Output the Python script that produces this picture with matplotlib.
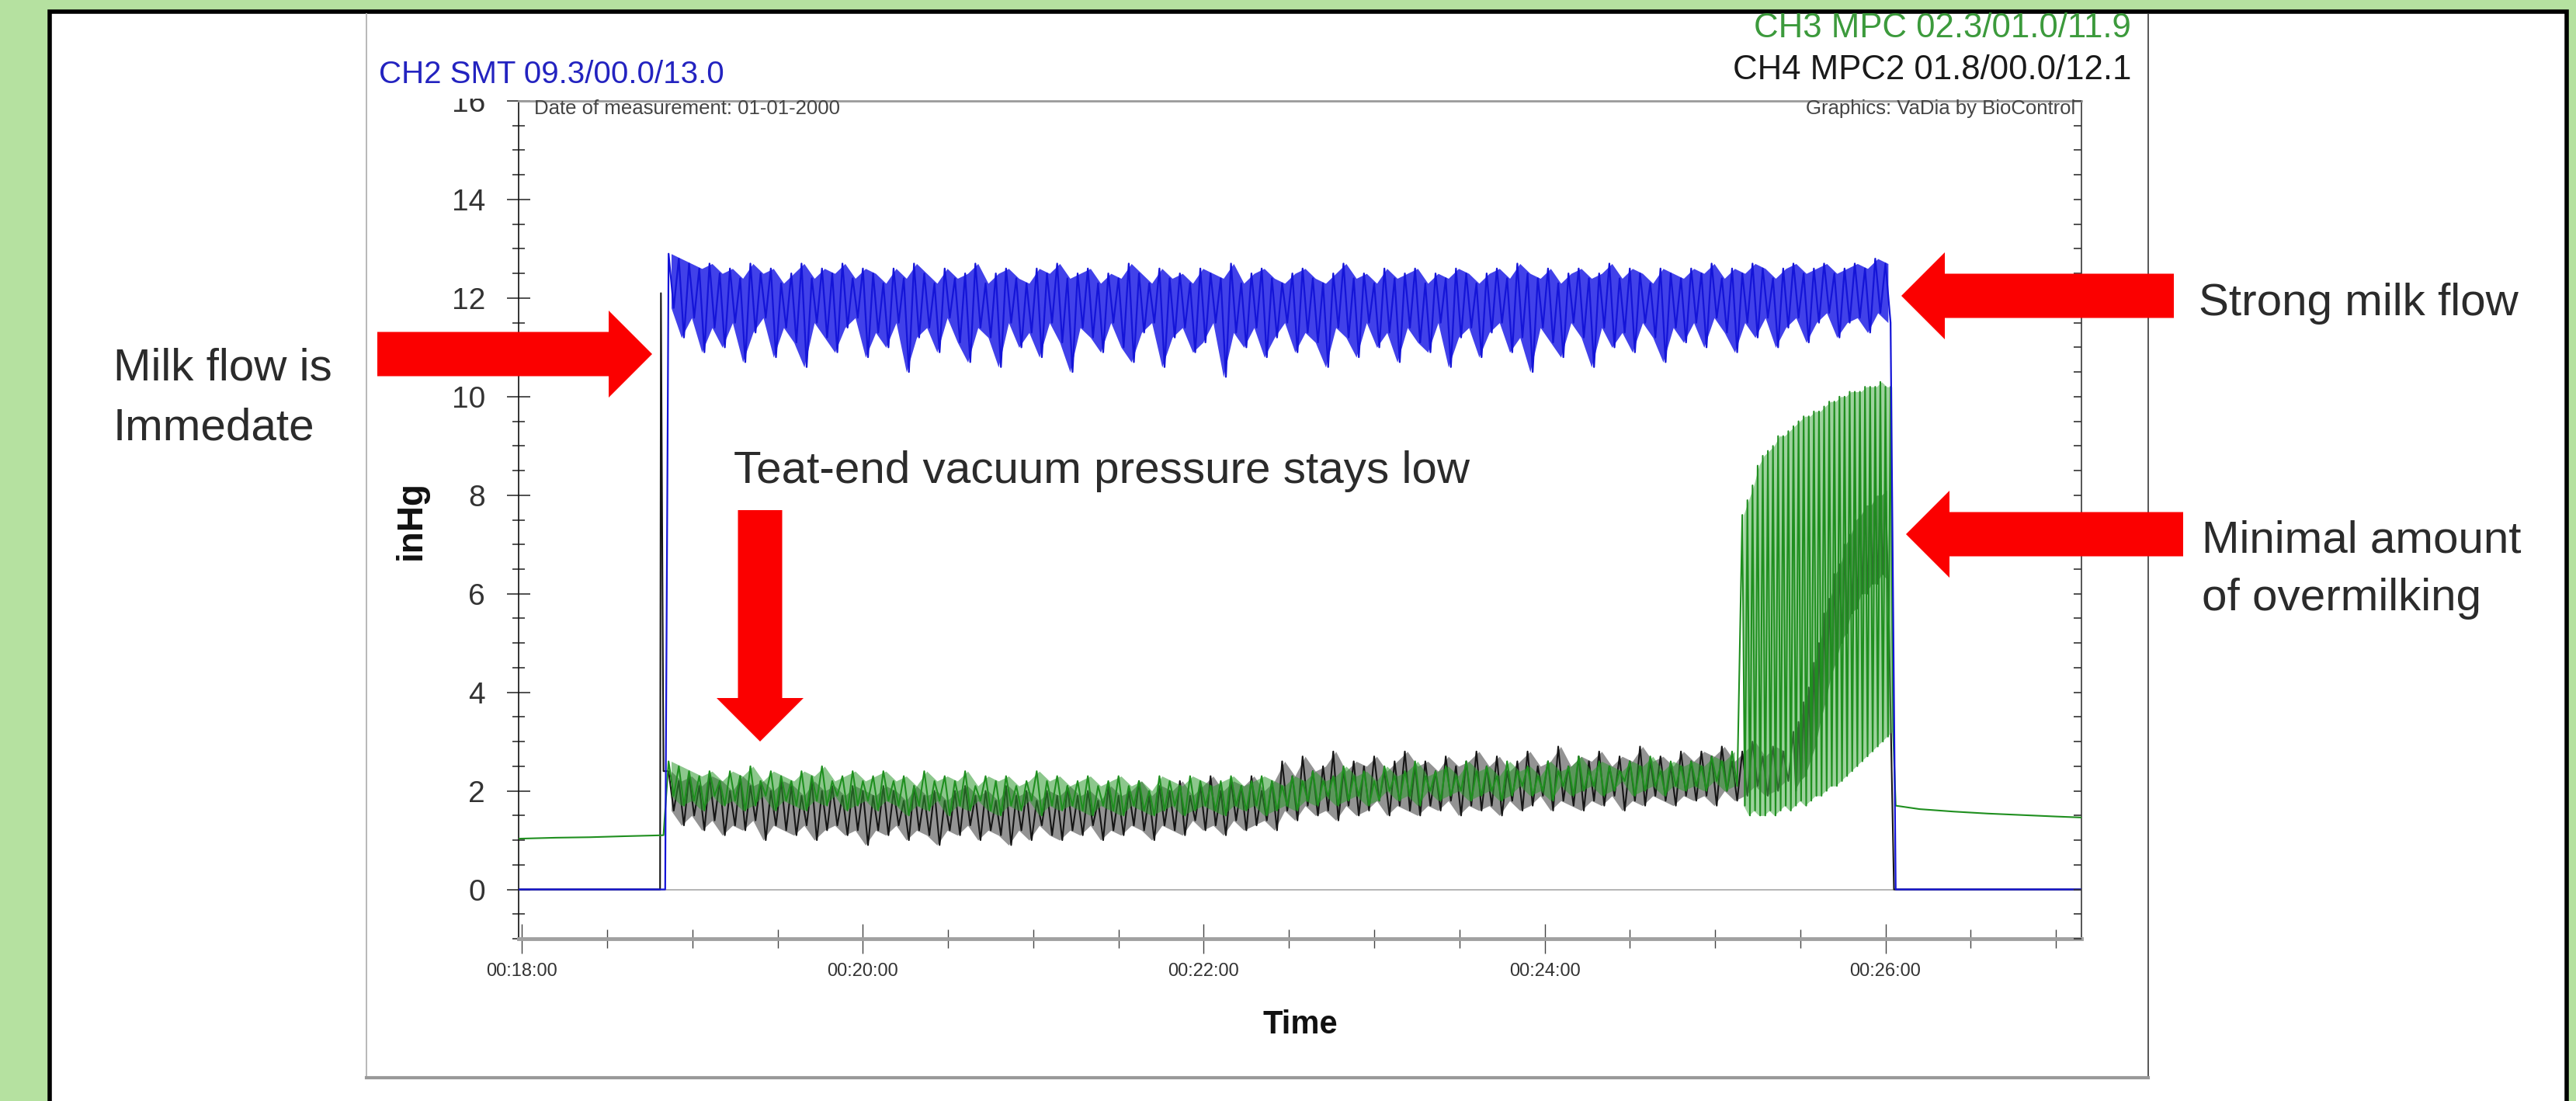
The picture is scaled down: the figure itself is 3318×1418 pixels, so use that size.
import numpy as np
import matplotlib.pyplot as plt
from matplotlib.patches import Rectangle, FancyArrow
from matplotlib.lines import Line2D
from matplotlib.ticker import MultipleLocator, FuncFormatter

plt.rcParams['font.family'] = ['Liberation Sans', 'DejaVu Sans']

W, H, DPI = 3318, 1418, 100

# ---------------- data: vacuum in inHg, time in minutes ----------------
dt = 0.03      # sample step of the pulsating traces
dt_fast = 0.015

# CH2 SMT (blue)
ch2_pre_t = [17.98, 18.84]
ch2_pre = [0.0, 0.0]
ch2_t0 = 18.86
ch2_hi = [12.9, 12.8, 12.7, 12.6, 12.7, 12.5, 12.6, 12.4, 12.7, 12.5, 12.6, 12.3, 12.5, 12.7, 12.4, 12.6, 12.5, 12.7, 12.4, 12.6,
          12.5, 12.3, 12.6, 12.4, 12.7, 12.5, 12.3, 12.6, 12.4, 12.5, 12.7, 12.3, 12.5, 12.6, 12.4, 12.3, 12.6, 12.5, 12.7, 12.4,
          12.5, 12.6, 12.3, 12.5, 12.4, 12.7, 12.5, 12.3, 12.6, 12.4, 12.5, 12.3, 12.6, 12.5, 12.4, 12.7, 12.3, 12.5, 12.6, 12.4,
          12.3, 12.5, 12.6, 12.4, 12.3, 12.5, 12.7, 12.4, 12.5, 12.3, 12.6, 12.4, 12.5, 12.6, 12.3, 12.5, 12.4, 12.6, 12.5, 12.3,
          12.5, 12.6, 12.4, 12.7, 12.5, 12.4, 12.6, 12.3, 12.5, 12.6, 12.4, 12.5, 12.7, 12.4, 12.6, 12.5, 12.3, 12.6, 12.5, 12.4,
          12.6, 12.5, 12.7, 12.4, 12.6, 12.5, 12.7, 12.6, 12.4, 12.6, 12.7, 12.5, 12.6, 12.7, 12.5, 12.6, 12.7, 12.6, 12.8, 12.7]
ch2_lo = [11.8, 11.2, 11.6, 10.9, 11.4, 11.0, 11.5, 10.7, 11.3, 11.6, 10.8, 11.4, 11.1, 10.6, 11.5, 11.2, 10.9, 11.4, 11.6, 10.8,
          11.3, 11.0, 11.5, 10.5, 11.2, 11.4, 10.9, 11.6, 11.1, 10.7, 11.4, 11.2, 10.6, 11.5, 11.0, 11.3, 10.8, 11.5, 11.1, 10.5,
          11.4, 11.2, 10.9, 11.5, 11.0, 10.7, 11.3, 11.5, 10.6, 11.2, 11.4, 10.9, 11.1, 11.5, 10.4, 11.3, 11.0, 11.4, 10.8, 11.2,
          11.5, 10.9, 11.3, 11.1, 10.6, 11.4, 11.2, 10.8, 11.5, 11.0, 11.3, 10.7, 11.4, 11.1, 10.9, 11.5, 10.6, 11.2, 11.4, 10.8,
          11.3, 11.5, 10.9, 11.2, 10.5, 11.4, 11.1, 10.8, 11.5, 11.2, 10.6, 11.4, 11.0, 11.3, 10.9, 11.5, 11.2, 10.7, 11.4, 11.1,
          11.5, 11.0, 11.6, 11.3, 10.9, 11.5, 11.2, 11.6, 11.0, 11.4, 11.6, 11.1, 11.5, 11.7, 11.2, 11.5, 11.6, 11.3, 11.7, 11.5]
ch2_post_t = [26.06, 27.15]
ch2_post = [0.0, 0.0]

# CH3 MPC (green)
ch3_pre_t = [17.98, 18.2, 18.4, 18.6, 18.83]
ch3_pre = [1.03, 1.05, 1.06, 1.08, 1.10]
ch3_t0 = 18.86
ch3_hi = [2.6, 2.5, 2.4, 2.3, 2.4, 2.2, 2.4, 2.3, 2.5, 2.2, 2.4, 2.3, 2.2, 2.4, 2.3, 2.5, 2.2, 2.3, 2.4, 2.2,
          2.3, 2.4, 2.2, 2.3, 2.1, 2.4, 2.2, 2.3, 2.2, 2.4, 2.1, 2.3, 2.2, 2.3, 2.1, 2.2, 2.4, 2.2, 2.3, 2.1,
          2.2, 2.3, 2.1, 2.2, 2.3, 2.1, 2.2, 2.0, 2.3, 2.2, 2.1, 2.3, 2.2, 2.1, 2.2, 2.3, 2.1, 2.2, 2.3, 2.2,
          2.1, 2.3, 2.2, 2.4, 2.2, 2.3, 2.5, 2.3, 2.4, 2.2, 2.5, 2.3, 2.4, 2.6, 2.3, 2.4, 2.5, 2.3, 2.6, 2.4,
          2.5, 2.3, 2.6, 2.4, 2.5, 2.3, 2.6, 2.4, 2.5, 2.7, 2.4, 2.6, 2.5, 2.4, 2.6, 2.5, 2.7, 2.4, 2.6, 2.5,
          2.6, 2.5, 2.7, 2.6, 2.8]
ch3_lo = [1.9, 1.7, 1.8, 1.6, 1.9, 1.7, 1.8, 1.6, 1.7, 1.9, 1.6, 1.8, 1.7, 1.6, 1.8, 1.7, 1.9, 1.6, 1.7, 1.8,
          1.6, 1.8, 1.7, 1.5, 1.7, 1.6, 1.8, 1.5, 1.7, 1.6, 1.8, 1.6, 1.5, 1.7, 1.6, 1.8, 1.5, 1.7, 1.6, 1.7,
          1.6, 1.5, 1.7, 1.6, 1.5, 1.7, 1.6, 1.5, 1.6, 1.7, 1.5, 1.6, 1.7, 1.6, 1.5, 1.7, 1.6, 1.7, 1.5, 1.6,
          1.7, 1.6, 1.8, 1.7, 1.9, 1.7, 1.8, 1.9, 1.7, 1.8, 2.0, 1.8, 1.9, 1.7, 2.0, 1.8, 1.9, 2.0, 1.8, 1.9,
          2.0, 1.8, 1.9, 2.1, 1.9, 2.0, 1.8, 2.1, 1.9, 2.0, 2.1, 1.9, 2.0, 2.2, 1.9, 2.0, 2.1, 1.9, 2.1, 2.0,
          2.1, 2.0, 2.2, 2.0, 2.1]
# overmilking phase (fast pulsation swings)
ch3_om_t0 = 25.16
ch3_om_hi = [7.6, 7.9, 8.2, 8.6, 8.8, 8.9, 9.0, 9.2, 9.2, 9.3, 9.4, 9.5, 9.6, 9.6, 9.7,
             9.7, 9.8, 9.9, 9.9, 10.0, 10.0, 10.1, 10.1, 10.1, 10.2, 10.2, 10.2, 10.3, 10.2, 10.2]
ch3_om_lo = [1.7, 1.5, 1.6, 1.5, 1.5, 1.6, 1.5, 1.6, 1.7, 1.6, 1.7, 1.8, 1.7, 1.8, 1.9,
             1.9, 2.0, 2.1, 2.1, 2.2, 2.3, 2.4, 2.5, 2.6, 2.7, 2.8, 2.9, 3.0, 3.1, 3.2]
ch3_post_t = [26.06, 26.2, 26.4, 26.6, 26.8, 27.0, 27.15]
ch3_post = [1.70, 1.63, 1.58, 1.54, 1.51, 1.48, 1.46]

# CH4 MPC2 (black)
ch4_pre_t = [17.98, 18.81, 18.815, 18.83]
ch4_pre = [0.0, 0.0, 12.1, 2.4]
ch4_t0 = 18.86
ch4_hi = [2.4, 2.2, 2.3, 2.1, 2.3, 2.2, 2.0, 2.3, 2.1, 2.2, 2.0, 2.2, 2.1, 1.9, 2.2, 2.0, 2.1, 1.9, 2.1, 2.0,
          1.9, 2.1, 2.0, 1.8, 2.1, 1.9, 2.0, 1.8, 2.0, 2.1, 1.9, 2.0, 1.8, 2.1, 1.9, 2.0, 1.8, 2.0, 1.9, 2.1,
          1.9, 2.0, 1.8, 2.1, 1.9, 2.0, 2.2, 1.9, 2.1, 2.0, 2.2, 1.9, 2.1, 2.3, 2.0, 2.2, 2.1, 2.3, 2.0, 2.2,
          2.6, 2.3, 2.7, 2.4, 2.5, 2.8, 2.4, 2.6, 2.5, 2.7, 2.4, 2.6, 2.8, 2.5, 2.6, 2.4, 2.7, 2.5, 2.6, 2.8,
          2.5, 2.7, 2.4, 2.6, 2.8, 2.5, 2.6, 2.9, 2.5, 2.7, 2.6, 2.8, 2.5, 2.7, 2.6, 2.9, 2.6, 2.7, 2.5, 2.8,
          2.6, 2.8, 2.7, 2.9, 2.6, 2.8, 3.0, 2.7, 2.9, 2.8]
ch4_lo = [1.6, 1.3, 1.5, 1.2, 1.4, 1.1, 1.3, 1.2, 1.4, 1.0, 1.3, 1.2, 1.1, 1.3, 1.0, 1.2, 1.3, 1.1, 1.2, 0.9,
          1.2, 1.1, 1.3, 1.0, 1.2, 1.1, 0.9, 1.2, 1.1, 1.3, 1.0, 1.2, 1.1, 0.9, 1.2, 1.0, 1.3, 1.1, 1.0, 1.2,
          1.1, 1.3, 1.0, 1.2, 1.1, 1.3, 1.2, 1.0, 1.3, 1.2, 1.1, 1.4, 1.2, 1.3, 1.1, 1.4, 1.2, 1.3, 1.4, 1.2,
          1.6, 1.4, 1.7, 1.5, 1.6, 1.4, 1.7, 1.5, 1.6, 1.8, 1.5, 1.7, 1.6, 1.5, 1.7, 1.6, 1.8, 1.5, 1.7, 1.6,
          1.7, 1.5, 1.8, 1.6, 1.7, 1.9, 1.6, 1.8, 1.7, 1.6, 1.8, 1.7, 1.9, 1.6, 1.8, 1.7, 1.9, 1.8, 1.7, 1.9,
          1.8, 1.9, 1.7, 2.0, 1.8, 1.9, 2.1, 1.9, 2.0, 2.2]
ch4_rise_t0 = 25.46
ch4_rise_hi = [3.2, 3.4, 3.8, 4.1, 4.6, 5.0, 5.6, 5.9, 6.4, 6.6, 7.0, 7.2, 7.5, 7.6, 7.8, 7.8, 8.0, 8.0, 8.1]
ch4_rise_lo = [2.0, 2.2, 2.3, 2.6, 2.9, 3.4, 3.8, 4.3, 4.6, 5.0, 5.2, 5.6, 5.7, 6.0, 6.0, 6.2, 6.2, 6.4, 6.3]
ch4_post_t = [26.05, 27.15]
ch4_post = [0.0, 0.0]

x_major = [18, 20, 22, 24, 26]


def pulses(t0, step, hi, lo):
    v = np.column_stack([hi, lo]).ravel()
    return t0 + step * np.arange(v.size), v


def pair_times(t0, step, hi):
    return t0 + step * (2 * np.arange(len(hi)) + 0.5)


def px(x, y):
    # pixel position (from top-left) -> inches for dpi_scale_trans
    return x / DPI, (H - y) / DPI


t2, v2 = pulses(ch2_t0, dt, ch2_hi, ch2_lo)
ch2_t = np.concatenate([ch2_pre_t, t2, ch2_post_t])
ch2_v = np.concatenate([ch2_pre, v2, ch2_post])

t3, v3 = pulses(ch3_t0, dt, ch3_hi, ch3_lo)
t3b, v3b = pulses(ch3_om_t0, dt_fast, ch3_om_hi, ch3_om_lo)
ch3_t = np.concatenate([ch3_pre_t, t3, t3b, ch3_post_t])
ch3_v = np.concatenate([ch3_pre, v3, v3b, ch3_post])

t4, v4 = pulses(ch4_t0, dt, ch4_hi, ch4_lo)
t4b, v4b = pulses(ch4_rise_t0, dt_fast, ch4_rise_hi, ch4_rise_lo)
ch4_t = np.concatenate([ch4_pre_t, t4, t4b, ch4_post_t])
ch4_v = np.concatenate([ch4_pre, v4, v4b, ch4_post])

# ---------------- figure ----------------
fig = plt.figure(figsize=(W / DPI, H / DPI), dpi=DPI)
fig.patch.set_facecolor('#b5e1a0')
tr = fig.dpi_scale_trans

# white slide panel with black frame
x0, y0 = px(64, 1440)
fig.add_artist(Rectangle((x0, y0), (3306 - 64) / DPI, (1440 - 15) / DPI, transform=tr,
                         facecolor='white', edgecolor='black', lw=4, zorder=-3))
# frame of the pasted chart picture
for (xa, ya, xb, yb, c, lw) in [(472, 18, 472, 1388, '#b8b8b8', 1.4),
                                (2767, 18, 2767, 1388, '#3a3a3a', 1.2),
                                (472, 1388, 2767, 1388, '#999999', 3.0)]:
    pa, pb = px(xa, ya), px(xb, yb)
    fig.add_artist(Line2D([pa[0], pb[0]], [pa[1], pb[1]], transform=tr, color=c, lw=lw, zorder=-2))

ax = fig.add_axes([668 / W, (H - 1209) / H, (2681 - 668) / W, (1209 - 130) / H])
ax.set_facecolor('none')

ax.axhline(0, color='#a8a8a8', lw=1.2, zorder=1)

# the pulsation swings are so dense that they read as a band: shade between swing lows and highs
ax.fill_between(pair_times(ch4_t0, dt, ch4_hi), ch4_lo, ch4_hi, color='#3a3a3a', alpha=0.55, lw=0, zorder=2)
ax.fill_between(pair_times(ch4_rise_t0, dt_fast, ch4_rise_hi), ch4_rise_lo, ch4_rise_hi,
                color='#1d4d1d', alpha=0.7, lw=0, zorder=2)
ax.plot(ch4_t, ch4_v, color='#151515', lw=1.5, zorder=2)

ax.fill_between(pair_times(ch3_t0, dt, ch3_hi), ch3_lo, ch3_hi, color='#2e9a2e', alpha=0.55, lw=0, zorder=3)
ax.fill_between(pair_times(ch3_om_t0, dt_fast, ch3_om_hi), ch3_om_lo, ch3_om_hi,
                color='#4fae4f', alpha=0.55, lw=0, zorder=3)
ax.plot(ch3_t, ch3_v, color='#1f8f1f', lw=1.5, zorder=3)

ax.fill_between(pair_times(ch2_t0, dt, ch2_hi), ch2_lo, ch2_hi, color='#2020e6', alpha=0.85, lw=0, zorder=4)
ax.plot(ch2_t, ch2_v, color='#1414d8', lw=1.6, zorder=4)

ax.set_xlim(17.98, 27.15)
ax.set_ylim(-1.0, 16.0)
ax.set_xticks(x_major)
ax.xaxis.set_minor_locator(MultipleLocator(0.5))
ax.xaxis.set_major_formatter(FuncFormatter(lambda v, p: f"00:{int(round(v)):02d}:00"))
ax.yaxis.set_major_locator(MultipleLocator(2))
ax.yaxis.set_minor_locator(MultipleLocator(0.5))

ax.tick_params(axis='y', which='major', direction='inout', length=22, width=1.2, color='#333333',
               labelsize=28, labelcolor='#333333', pad=20)
ax.tick_params(axis='y', which='minor', direction='inout', length=11, width=1.2, color='#333333')
ax.tick_params(axis='x', which='major', direction='inout', length=27, width=1.0, color='#444444',
               labelsize=17, labelcolor='#333333', pad=9)
ax.tick_params(axis='x', which='minor', direction='inout', length=17, width=1.0, color='#444444')

ax.spines['left'].set_color('#111111')
ax.spines['left'].set_linewidth(1.2)
ax.spines['bottom'].set_color('#a0a0a0')
ax.spines['bottom'].set_linewidth(3.5)
ax.spines['top'].set_color('#9a9a9a')
ax.spines['top'].set_linewidth(2.0)
ax.spines['right'].set_color('#3a3a3a')
ax.spines['right'].set_linewidth(1.2)

# inward ticks on the right frame
axr = ax.twinx()
axr.set_ylim(ax.get_ylim())
axr.yaxis.set_major_locator(MultipleLocator(0.5))
axr.tick_params(axis='y', direction='in', length=7, width=1.2, color='#333333', labelright=False)
for s in axr.spines.values():
    s.set_visible(False)

ax.set_ylabel('inHg', fontsize=33, fontweight='bold', color='#111111')
ax.yaxis.set_label_coords((530 - 668) / (2681 - 668), (1209 - 670) / (1209 - 130))
ax.yaxis.label.set_va('center')
ax.set_xlabel('Time', fontsize=30, fontweight='bold', color='#111111')
ax.xaxis.set_label_coords(0.5, -(1320 - 1209) / (1209 - 130))
ax.xaxis.label.set_va('center')

ax.text(0.01, 0.9907, 'Date of measurement: 01-01-2000', transform=ax.transAxes,
        fontsize=18.5, color='#444444', va='center', ha='left')
ax.text(0.996, 0.9907, 'Graphics: VaDia by BioControl', transform=ax.transAxes,
        fontsize=18.5, color='#444444', va='center', ha='right')

# header strip of the chart picture hides the top of the "16" label
cx, cy = px(540, 127)
fig.add_artist(Rectangle((cx, cy), (664 - 540) / DPI, (127 - 18) / DPI, transform=tr,
                         facecolor='white', edgecolor='none', zorder=1))

fig.text(488 / W, 1 - 107 / H, 'CH2 SMT 09.3/00.0/13.0', fontsize=29, color='#2323c0',
         ha='left', va='baseline')
fig.text(2745 / W, 1 - 48 / H, 'CH3 MPC 02.3/01.0/11.9', fontsize=31.5, color='#3c9a3c',
         ha='right', va='baseline')
fig.text(2745 / W, 1 - 102 / H, 'CH4 MPC2 01.8/00.0/12.1', fontsize=31.5, color='#1a1a1a',
         ha='right', va='baseline')

# annotations
note = dict(fontsize=42, color='#2b2b2b', ha='left', va='baseline')
fig.text(146 / W, 1 - 490 / H, 'Milk flow is', **note)
fig.text(146 / W, 1 - 567 / H, 'Immedate', **note)
fig.text(945 / W, 1 - 622 / H, 'Teat-end vacuum pressure stays low', **note)
fig.text(2832 / W, 1 - 406 / H, 'Strong milk flow', **note)
fig.text(2836 / W, 1 - 712 / H, 'Minimal amount', **note)
fig.text(2836 / W, 1 - 786 / H, 'of overmilking', **note)


def arrow(xa, ya, xb, yb, w=57, hw=112, hl=56):
    (ax0, ay0), (ax1, ay1) = px(xa, ya), px(xb, yb)
    fig.add_artist(FancyArrow(ax0, ay0, ax1 - ax0, ay1 - ay0, width=w / DPI, head_width=hw / DPI,
                              head_length=hl / DPI, length_includes_head=True, transform=tr,
                              facecolor='#fb0000', edgecolor='none', zorder=4))


arrow(486, 456, 840, 456)
arrow(979, 657, 979, 955)
arrow(2800, 381, 2449, 381)
arrow(2812, 688, 2455, 688)

fig.savefig('out.png', dpi=DPI)
